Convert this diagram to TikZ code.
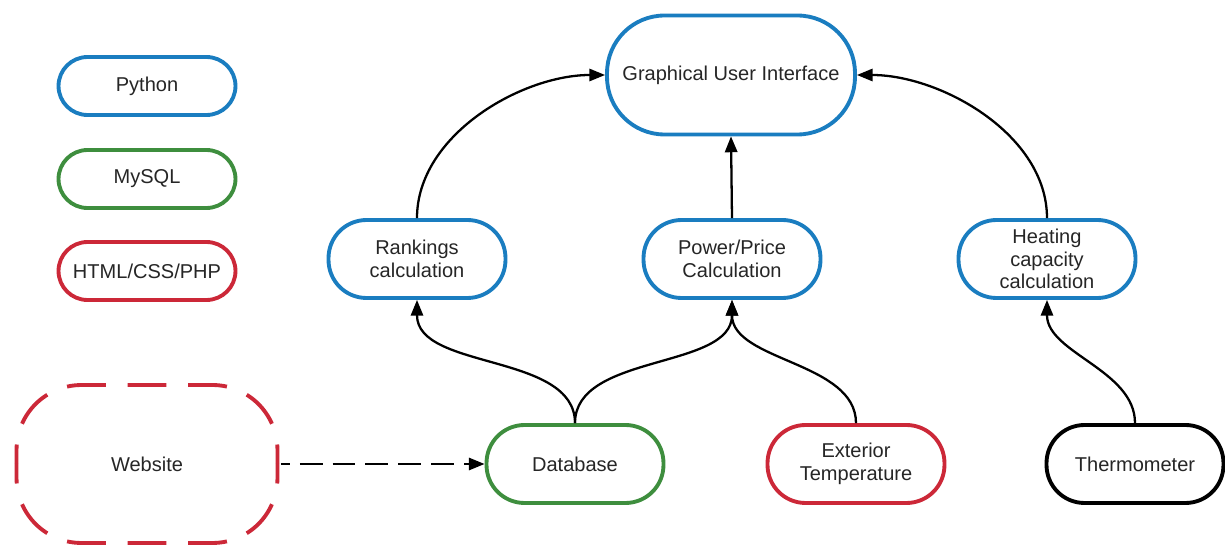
\documentclass[tikz,border=0pt]{standalone}
\usepackage{fontspec}
\setmainfont{Liberation Sans}
\usetikzlibrary{arrows.meta}
\definecolor{pyblue}{HTML}{1A7DC0}
\definecolor{sqlgreen}{HTML}{3E8E3E}
\definecolor{webred}{HTML}{CC2838}
\tikzset{
  base/.style={draw, line width=2.2pt, fill=white, align=center, inner sep=2pt,
    font=\fontsize{11.4}{12.8}\selectfont, text=black!85},
  small/.style={base, minimum width=3.54cm, minimum height=1.16cm, rounded corners=0.58cm},
  mid/.style={base, minimum width=3.54cm, minimum height=1.56cm, rounded corners=0.76cm},
  py/.style={draw=pyblue}, sql/.style={draw=sqlgreen}, web/.style={draw=webred},
  blk/.style={draw=black},
  conn/.style={line width=1.3pt, -{Triangle[length=9pt,width=7pt]}},
  webline/.style={draw=webred, line width=2.2pt, rounded corners=1.3cm,
    dash pattern=on 22.2pt off 12.25pt, dash phase=11.1pt},
}
\begin{document}
\begin{tikzpicture}[x=0.02cm,y=-0.02cm]
\useasboundingbox (0,0) rectangle (1225,547);
% legend
\node[small,py] (python) at (147,86) {Python};
\node[small,sql] (mysql) at (147,179) {MySQL};
\node[small,web] (html) at (147,271) {HTML/CSS/PHP};
% main
\node[base,py,minimum width=4.96cm,minimum height=2.38cm,rounded corners=1.15cm] (gui) at (731,75) {Graphical User Interface};
\node[mid,py] (rank) at (417,259) {Rankings\\calculation};
\node[mid,py] (power) at (732,259) {Power/Price\\Calculation};
\node[mid,py] (heat) at (1047,259) {Heating\\capacity\\calculation};
\node[base,draw=none,outer sep=0pt,minimum width=5.22cm,minimum height=3.16cm] (web) at (147,464) {Website};
\draw[webline] (web.west) |- (web.north);
\draw[webline] (web.east) |- (web.north);
\draw[webline] (web.west) |- (web.south);
\draw[webline] (web.east) |- (web.south);
\node[mid,sql] (db) at (575,464) {Database};
\node[mid,web] (ext) at (856,464) {Exterior\\Temperature};
\node[mid,blk] (thermo) at (1135,464) {Thermometer};
% connectors
\draw[conn] (db.north) to[out=90,in=-90,looseness=0.9] (rank.south);
\draw[conn] (db.north) to[out=90,in=-90,looseness=0.9] (power.south);
\draw[conn] (ext.north) to[out=90,in=-90,looseness=0.9] (power.south);
\draw[conn] (thermo.north) to[out=90,in=-90,looseness=0.9] (heat.south);
\draw[conn] (rank.north) to[out=90,in=180,looseness=0.9] (gui.west);
\draw[conn] (power.north) -- (gui.south);
\draw[conn] (heat.north) to[out=90,in=0,looseness=0.9] (gui.east);
\draw[conn,dash pattern=on 13pt off 5.7pt,dash phase=8pt,shorten <=2pt] (web.east) -- (db.west);
\end{tikzpicture}
\end{document}
